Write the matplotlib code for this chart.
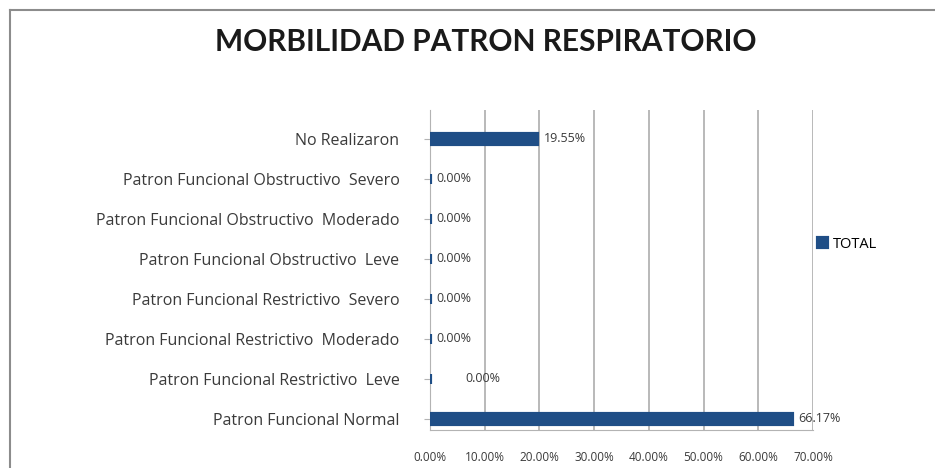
import numpy as np
import matplotlib.pyplot as plt
from matplotlib.lines import Line2D

plt.rcParams['font.family'] = ['Open Sans', 'DejaVu Sans']

# datos (de abajo hacia arriba)
categorias = ['Patron Funcional Normal',
              'Patron Funcional Restrictivo  Leve',
              'Patron Funcional Restrictivo  Moderado',
              'Patron Funcional Restrictivo  Severo',
              'Patron Funcional Obstructivo  Leve',
              'Patron Funcional Obstructivo  Moderado',
              'Patron Funcional Obstructivo  Severo',
              'No Realizaron']
valores = [66.17, 0.0, 0.0, 0.0, 0.0, 0.0, 0.0, 19.55]
etiquetas = ['66.17%', '0.00%', '0.00%', '0.00%', '0.00%', '0.00%', '0.00%', '19.55%']
ticks_x = [0, 10, 20, 30, 40, 50, 60, 70]

azul = '#1f4e86'
gris = '#b3b3b3'
texto = '#3a3a3a'

fig = plt.figure(figsize=(9.35, 4.68), dpi=100)
fig.patch.set_facecolor('white')

# marco del grafico
fig.add_artist(Line2D([10/935, 1], [1 - 10/468, 1 - 10/468], color='#8c8c8c', lw=1.5))
fig.add_artist(Line2D([10/935, 10/935], [0, 1 - 10/468], color='#8c8c8c', lw=1.5))

ax = fig.add_axes([430/935, 1 - 430/468, (813 - 430)/935, 320/468])

y = np.arange(len(categorias))
ax.barh(y, valores, height=0.27, color=azul, edgecolor=azul, linewidth=3,
        zorder=3, label='TOTAL')

ax.set_xlim(0, 70)
ax.set_ylim(-0.275, 7.725)
ax.set_xticks(ticks_x)
ax.set_xticklabels(['%.2f%%' % t for t in ticks_x], fontsize=8.5, color=texto)
ax.set_yticks(y)
ax.set_yticklabels(categorias, fontsize=11.5, color=texto)
ax.tick_params(axis='y', length=4, color=gris, pad=18)
ax.tick_params(axis='x', length=0, pad=15)

ax.grid(axis='x', color=gris, lw=1.3, zorder=0)
for s in ['top', 'right']:
    ax.spines[s].set_visible(False)
ax.spines['left'].set_color(gris)
ax.spines['bottom'].set_color(gris)

# etiquetas de datos
for i, (v, et) in enumerate(zip(valores, etiquetas)):
    dx = 1.2
    if i == 1:
        dx = 6.5
    ax.text(v + dx, i, et, va='center', ha='left', fontsize=9, color=texto, zorder=4)

# leyenda
ax.legend(loc='center left', bbox_to_anchor=(0.98, 0.58), frameon=False,
          fontsize=10.5, handlelength=0.6, handleheight=0.6, handletextpad=0.4)

fig.text(486/935, 1 - 42/468, 'MORBILIDAD PATRON RESPIRATORIO', ha='center', va='center',
         fontsize=21.5, fontweight='bold', color='#1a1a1a', family=['Lato', 'DejaVu Sans'])

plt.savefig('out.png', dpi=100)
